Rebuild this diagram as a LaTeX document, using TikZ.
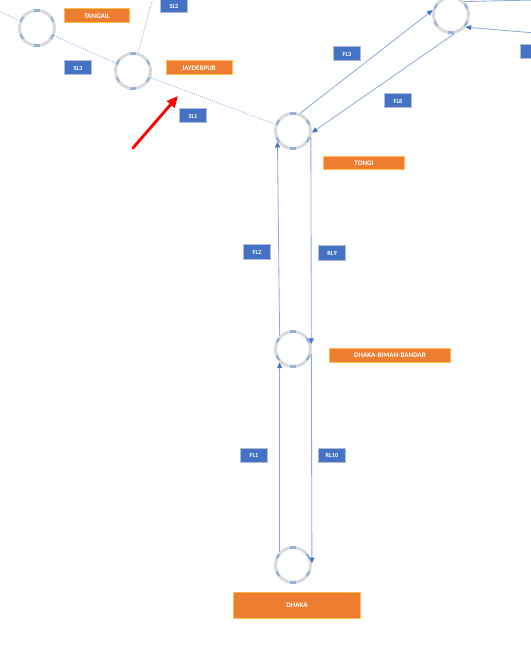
\documentclass[tikz,border=0pt]{standalone}
\usepackage{fontspec}
\setsansfont{Carlito}
\usetikzlibrary{arrows.meta}

\begin{document}
\begin{tikzpicture} [
    x=0.025cm, y=0.025cm,
    station/.style={circle, draw=ringgray, line width=2.1pt, minimum size=0.875cm, inner sep=0pt},
    stationmark/.style={rectangle, fill=markblue, inner sep=0pt, minimum width=0.13cm, minimum height=1.6pt},
    place/.style={fill=placeorange, draw=placeedge, line width=0.7pt, text=white, inner sep=0pt, minimum height=0.35cm, font=\sffamily\bfseries\fontsize{5}{6}\selectfont},
    linkname/.style={fill=linkblue, draw=linkedge, line width=0.7pt, text=white, inner sep=0pt, minimum width=0.675cm, minimum height=0.35cm, font=\sffamily\bfseries\fontsize{4.5}{5}\selectfont},
    link/.style={draw=lineblue, line width=0.6pt, -{Triangle[width=3.5pt,length=4pt,color=linkblue]}},
    sidelink/.style={draw=lineblue, line width=0.6pt, dash pattern=on 0.6pt off 0.9pt},
    pointer/.style={red, line width=2pt, line cap=round, -{Triangle[width=7pt,length=8pt]}}
  ]

\definecolor{ringgray}{RGB}{217, 217, 217}
\definecolor{markblue}{RGB}{150, 177, 224}
\definecolor{placeorange}{RGB}{237, 125, 49}
\definecolor{placeedge}{RGB}{255, 192, 80}
\definecolor{linkblue}{RGB}{68, 114, 196}
\definecolor{linkedge}{RGB}{175, 188, 212}
\definecolor{lineblue}{RGB}{143, 170, 220}

\useasboundingbox (0,0) rectangle (531,649);

% stations
\node[station] (tangail) at (37,621) {};
\node[station] (jaydebpur) at (133,578) {};
\node[station] (tongi) at (293,518) {};
\node[station] (nextstop) at (451,634) {};
\node[station] (airport) at (293,300) {};
\node[station] (dhaka) at (293,84) {};

% marks on the rings
\foreach \s in {tangail,jaydebpur,tongi,nextstop,airport,dhaka}
  \foreach \a in {30,90,150,210,270,330}
    \node[stationmark, rotate=\a+90] at ([shift={(\a:17.5)}]\s.center) {};

% station names
\node[place, minimum width=1.625cm] (tangailname) at (97,633) {TANGAIL};
\node[place, minimum width=1.65cm] (jaydebpurname) at (199,581) {JAYDEBPUR};
\node[place, minimum width=2.025cm, minimum height=0.325cm] (tonginame) at (364,486) {TONGI};
\node[place, minimum width=3cm] (airportname) at (390,294) {DHAKA-BIMAN-BANDAR};
\node[place, minimum width=3.175cm, minimum height=0.65cm] (dhakaname) at (297,44) {DHAKA};

% side lines
\coordinate (westend) at (0,637);
\coordinate (slnorth) at (153,651);
\draw[sidelink] (westend) -- (tangail) (tangail) -- (jaydebpur) (jaydebpur) -- (tongi);
\draw[sidelink] (jaydebpur) -- (slnorth);

% main lines
\coordinate (topend) at (535,649);
\coordinate (eastend) at (535,616);
\draw[link] (tongi.68) -- (nextstop.165);
\draw[link] (nextstop.-80) -- (tongi.-5);
\draw[link] (airport.135) -- (tongi.-145);
\draw[link] (tongi.-20) -- (airport.15);
\draw[link] (dhaka.135) -- (airport.-135);
\draw[link] (airport.-15) -- (dhaka.5);
\draw[link] (eastend) -- (nextstop.-40);
\draw[lineblue, line width=0.6pt] (nextstop.45) -- (topend);

% line names
\node[linkname] (sl2) at (174,643) {SL2};
\node[linkname] (sl3) at (78,581) {SL3};
\node[linkname] (sl1) at (193,533) {SL1};
\node[linkname] (fl3) at (347,595) {FL3};
\node[linkname] (fl8) at (398,548) {FL8};
\node[linkname] (fl2) at (257,397) {FL2};
\node[linkname] (rl9) at (332,396) {RL9};
\node[linkname] (fl1) at (254,194) {FL1};
\node[linkname] (rl10) at (332,194) {RL10};
\node[linkname] (cutname) at (534,597) {};

% pointer
\coordinate (pointertail) at (133,501);
\coordinate (pointertip) at (178,553);
\draw[pointer] (pointertail) -- (pointertip);

\end{tikzpicture}
\end{document}
